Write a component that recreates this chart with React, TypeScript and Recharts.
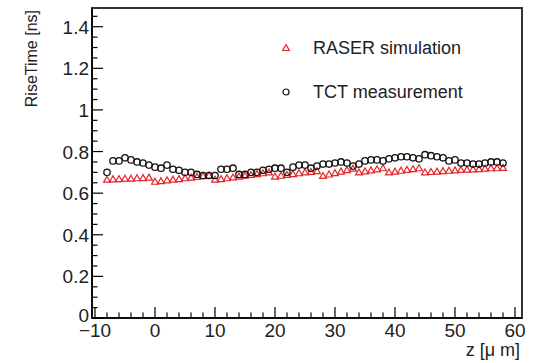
import React from "react";
import { ScatterChart, Scatter, XAxis, YAxis, ReferenceArea } from "recharts";

const zPositions = [
  -8, -7, -6, -5, -4, -3, -2, -1, 0, 1, 2, 3, 4, 5, 6, 7, 8, 9, 10, 11, 12, 13, 14, 15, 16, 17, 18, 19,
  20, 21, 22, 23, 24, 25, 26, 27, 28, 29, 30, 31, 32, 33, 34, 35, 36, 37, 38, 39, 40, 41, 42, 43, 44,
  45, 46, 47, 48, 49, 50, 51, 52, 53, 54, 55, 56, 57, 58,
];

const raserSim = [
  0.665, 0.667, 0.668, 0.67, 0.67, 0.672, 0.673, 0.675,
  0.655, 0.658, 0.662, 0.665, 0.668, 0.672, 0.675, 0.678, 0.682, 0.685,
  0.665, 0.668, 0.672, 0.676, 0.68, 0.684, 0.688, 0.692, 0.696, 0.7,
  0.68, 0.684, 0.688, 0.692, 0.696, 0.7, 0.703, 0.706,
  0.683, 0.69, 0.697, 0.704, 0.711, 0.718,
  0.7, 0.705, 0.71, 0.715, 0.72,
  0.7, 0.704, 0.708, 0.712, 0.716, 0.72,
  0.7, 0.702, 0.704, 0.706, 0.708, 0.71, 0.712, 0.713, 0.715, 0.716, 0.718, 0.72, 0.72, 0.722,
];

const tctMeas = [
  0.7, 0.755, 0.755, 0.77, 0.76, 0.75, 0.745, 0.735, 0.725, 0.72, 0.735, 0.715, 0.71, 0.7, 0.7, 0.69,
  0.685, 0.685, 0.685, 0.715, 0.715, 0.72, 0.69, 0.69, 0.7, 0.7, 0.71, 0.715, 0.72, 0.72, 0.7, 0.725,
  0.735, 0.735, 0.72, 0.73, 0.74, 0.74, 0.745, 0.75, 0.745, 0.73, 0.74, 0.755, 0.76, 0.76, 0.755,
  0.765, 0.77, 0.775, 0.775, 0.77, 0.765, 0.785, 0.78, 0.775, 0.77, 0.755, 0.76, 0.745, 0.745, 0.74,
  0.74, 0.745, 0.75, 0.75, 0.745,
];

const xMajorTicks = [-10, 0, 10, 20, 30, 40, 50, 60];
const yMajorTicks = [0, 0.2, 0.4, 0.6, 0.8, 1, 1.2, 1.4];
const xDomain: [number, number] = [-10.5, 61.17];
const yDomain: [number, number] = [0, 1.49];

const xMinorStep = 2;
const yMinorStep = 0.05;

const xTicks: number[] = [];
for (let i = 0; i < xMajorTicks.length - 1; i++) {
  const a = xMajorTicks[i];
  const b = xMajorTicks[i + 1];
  for (let v = a; v < b - 1e-9; v += xMinorStep) xTicks.push(+v.toFixed(4));
}
xTicks.push(xMajorTicks[xMajorTicks.length - 1]);

const yTicks: number[] = [];
for (let i = 0; i < yMajorTicks.length - 1; i++) {
  const a = yMajorTicks[i];
  const b = yMajorTicks[i + 1];
  for (let v = a; v < b - 1e-9; v += yMinorStep) yTicks.push(+v.toFixed(4));
}
yTicks.push(yMajorTicks[yMajorTicks.length - 1]);
yTicks.push(1.45);

const simData = zPositions.map((z, i) => ({ z, v: raserSim[i] }));
const measData = zPositions.map((z, i) => ({ z, v: tctMeas[i] }));

const FONT = "'Liberation Sans', Arial, sans-serif";
const RED = "#e3262b";

const isMajor = (v: number, arr: number[]) => arr.some((m) => Math.abs(m - v) < 1e-6);
const fmt = (v: number) => (v < 0 ? "\u2212" + Math.abs(v) : String(v));

const XTick = (props: any) => {
  const { x, y, payload } = props;
  const v = payload.value;
  const major = isMajor(v, xMajorTicks);
  return (
    <g>
      <line x1={x} x2={x} y1={y} y2={y - (major ? 11 : 5.5)} stroke="#000" strokeWidth={1.2} />
      {major && (
        <text x={x} y={y + 19} textAnchor="middle" fontSize={19} fontFamily={FONT} fill="#222">
          {fmt(v)}
        </text>
      )}
    </g>
  );
};

const YTick = (props: any) => {
  const { x, y, payload } = props;
  const v = payload.value;
  const major = isMajor(v, yMajorTicks);
  const isZero = Math.abs(v) < 1e-9;
  return (
    <g>
      <line x1={x} x2={x + (major ? 11 : 5.5)} y1={y} y2={y} stroke="#000" strokeWidth={1.2} />
      {major && (
        <text x={x - 3} y={y + (isZero ? 4 : 7)} textAnchor="end" fontSize={19} fontFamily={FONT} fill="#222">
          {String(v)}
        </text>
      )}
    </g>
  );
};

const Triangle = (props: any) => {
  const { cx, cy } = props;
  if (cx == null || cy == null) return null;
  const s = 3.4;
  return (
    <polygon
      points={`${cx},${cy - s} ${cx + s},${cy + s * 0.75} ${cx - s},${cy + s * 0.75}`}
      fill="none"
      stroke={RED}
      strokeWidth={1.2}
    />
  );
};

const Circle = (props: any) => {
  const { cx, cy } = props;
  if (cx == null || cy == null) return null;
  return <circle cx={cx} cy={cy} r={3.2} fill="none" stroke="#111" strokeWidth={1.3} />;
};

export default function App() {
  return (
    <div style={{ position: "absolute", left: 0, top: 0, width: 536, height: 363, background: "#fff" }}>
      <ScatterChart width={536} height={363} margin={{ top: 8, right: 14, bottom: 15, left: 32 }}>
        <XAxis
          type="number"
          dataKey="z"
          domain={xDomain}
          allowDataOverflow
          ticks={xTicks}
          interval={0}
          tick={<XTick />}
          tickLine={false}
          tickSize={0}
          tickMargin={0}
          height={30}
          axisLine={{ stroke: "#000", strokeWidth: 1.5 }}
        />
        <YAxis
          type="number"
          dataKey="v"
          domain={yDomain}
          allowDataOverflow
          ticks={yTicks}
          interval={0}
          tick={<YTick />}
          tickLine={false}
          tickSize={0}
          tickMargin={0}
          width={60}
          axisLine={{ stroke: "#000", strokeWidth: 1.5 }}
        />
        <ReferenceArea
          x1={xDomain[0]}
          x2={xDomain[1]}
          y1={yDomain[0]}
          y2={yDomain[1]}
          fill="none"
          stroke="#333"
          strokeWidth={2}
          ifOverflow="visible"
        />
        <Scatter data={simData} shape={<Triangle />} isAnimationActive={false} />
        <Scatter data={measData} shape={<Circle />} isAnimationActive={false} />
      </ScatterChart>

      <div
        style={{
          position: "absolute",
          left: 22,
          top: 110,
          transformOrigin: "0 0",
          transform: "rotate(-90deg)",
          fontFamily: FONT,
          fontSize: 16,
          color: "#222",
          whiteSpace: "nowrap",
          width: 100,
          textAlign: "right",
          lineHeight: "19px",
        }}
      >
        RiseTime [ns]
      </div>
      <div
        style={{
          position: "absolute",
          right: 16,
          top: 340,
          fontFamily: FONT,
          fontSize: 18,
          color: "#222",
          whiteSpace: "nowrap",
          lineHeight: "20px",
        }}
      >
        z [μ m]
      </div>

      <div style={{ position: "absolute", left: 279, top: 37, fontFamily: FONT, fontSize: 18, color: "#222" }}>
        <div style={{ display: "flex", alignItems: "center", height: 22 }}>
          <svg width={14} height={14} style={{ marginRight: 20 }}>
            <polygon points="7,3.6 10.4,9.5 3.6,9.5" fill="none" stroke={RED} strokeWidth={1.2} />
          </svg>
          <span>RASER simulation</span>
        </div>
        <div style={{ display: "flex", alignItems: "center", height: 22, marginTop: 22 }}>
          <svg width={14} height={14} style={{ marginRight: 20 }}>
            <circle cx={7} cy={7} r={3} fill="none" stroke="#111" strokeWidth={1.2} />
          </svg>
          <span>TCT measurement</span>
        </div>
      </div>
    </div>
  );
}
